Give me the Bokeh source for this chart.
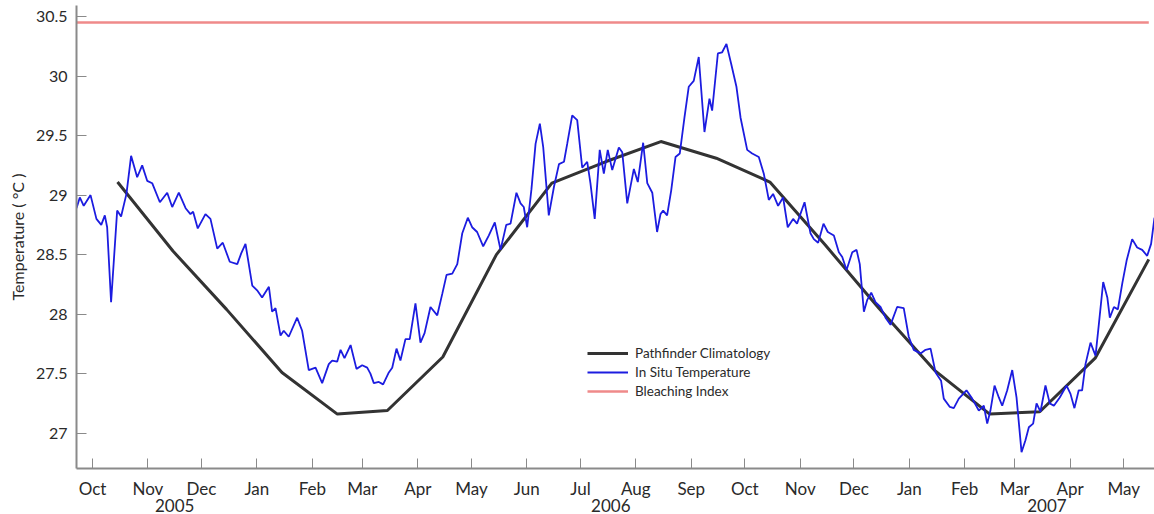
import pandas as pd
from bokeh.plotting import figure
from bokeh.models import (Range1d, FixedTicker, LinearAxis, Legend, LegendItem,
                          CustomJSTickFormatter)
from bokeh.embed import file_html
from bokeh.resources import INLINE

# Days are counted from 2005-10-01
base_date = "2005-10-01"

insitu_day = [
    -8.95, -7.1, -4.9, -1.1, 2.2, 4.9, 6.9, 8.2, 10.4, 13.8,
    16.0, 19.0, 21.6, 25.0, 27.8, 30.6, 33.4, 37.7, 41.8, 44.6,
    48.3, 52.1, 54.8, 56.3, 58.9, 63.2, 66.0, 69.8, 72.9, 76.8,
    81.0, 83.2, 85.6, 89.4, 92.1, 94.9, 98.7, 100.5, 102.4, 105.2,
    107.0, 109.8, 114.5, 117.3, 121.0, 124.8, 128.5, 132.2, 134.1, 136.9,
    138.8, 141.0, 144.4, 147.7, 150.9, 153.7, 155.5, 157.4, 160.2, 162.6,
    165.8, 167.7, 170.1, 172.3, 175.1, 177.5, 180.7, 183.5, 185.8, 189.1,
    192.9, 195.7, 198.1, 201.3, 204.1, 206.9, 210.0, 212.4, 215.2, 218.6,
    221.7, 225.1, 228.3, 231.5, 233.9, 237.2, 239.5, 241.3, 243.2, 245.6,
    247.9, 250.3, 252.2, 255.3, 258.2, 261.0, 263.8, 265.6, 268.4, 271.2,
    274.0, 276.8, 278.6, 281.0, 283.8, 286.1, 288.3, 290.8, 294.5, 296.4,
    299.2, 302.9, 305.1, 308.1, 310.4, 313.2, 315.9, 317.8, 319.3, 321.5,
    323.8, 326.2, 328.6, 331.2, 333.6, 336.4, 339.2, 342.4, 345.2, 346.7,
    349.9, 352.3, 354.7, 357.4, 360.3, 362.6, 366.3, 369.1, 372.8, 375.6,
    378.4, 380.8, 383.6, 386.4, 389.0, 392.0, 394.2, 398.4, 401.7, 403.6,
    406.0, 409.0, 411.4, 414.8, 417.6, 419.5, 421.9, 425.1, 427.5, 429.3,
    431.6, 433.5, 435.7, 438.1, 440.9, 443.7, 446.5, 450.2, 453.9, 456.7,
    459.5, 463.3, 466.1, 468.9, 471.7, 474.8, 476.3, 479.7, 481.9, 484.7,
    489.0, 492.2, 495.9, 498.7, 500.6, 502.4, 504.7, 507.1, 509.0, 511.8,
    514.6, 517.0, 519.8, 522.0, 523.9, 526.3, 528.2, 530.4, 533.2, 535.6,
    537.9, 541.2, 545.0, 547.2, 549.4, 551.8, 553.7, 555.6, 558.4, 561.2,
    563.1, 565.5, 567.8, 569.2, 571.5, 573.7, 576.2, 578.6, 581.7, 584.5,
    587.3, 590.1, 592.3, 594.2,
]
insitu_temp = [
    28.89, 28.98, 28.91, 29.00, 28.80, 28.75, 28.83, 28.73, 28.10, 28.87,
    28.82, 29.01, 29.33, 29.15, 29.25, 29.12, 29.10, 28.94, 29.02, 28.90,
    29.02, 28.89, 28.84, 28.86, 28.72, 28.84, 28.80, 28.55, 28.60, 28.44,
    28.42, 28.51, 28.59, 28.24, 28.20, 28.14, 28.23, 28.02, 28.05, 27.82,
    27.86, 27.81, 27.97, 27.86, 27.53, 27.55, 27.42, 27.58, 27.61, 27.60,
    27.70, 27.63, 27.74, 27.54, 27.57, 27.55, 27.50, 27.42, 27.43, 27.41,
    27.51, 27.55, 27.71, 27.61, 27.79, 27.79, 28.09, 27.76, 27.84, 28.06,
    27.99, 28.17, 28.33, 28.34, 28.42, 28.68, 28.81, 28.73, 28.69, 28.57,
    28.66, 28.77, 28.54, 28.75, 28.76, 29.02, 28.93, 28.90, 28.73, 29.05,
    29.43, 29.60, 29.40, 28.83, 29.07, 29.26, 29.28, 29.43, 29.67, 29.63,
    29.23, 29.28, 29.10, 28.80, 29.38, 29.18, 29.38, 29.21, 29.40, 29.36,
    28.93, 29.22, 29.11, 29.44, 29.10, 29.02, 28.69, 28.84, 28.87, 28.83,
    29.04, 29.32, 29.35, 29.65, 29.91, 29.96, 30.16, 29.53, 29.81, 29.71,
    30.19, 30.20, 30.27, 30.10, 29.91, 29.65, 29.38, 29.35, 29.32, 29.18,
    28.96, 29.01, 28.91, 28.98, 28.73, 28.80, 28.76, 28.94, 28.68, 28.63,
    28.60, 28.76, 28.69, 28.66, 28.52, 28.48, 28.37, 28.52, 28.54, 28.42,
    28.02, 28.12, 28.18, 28.10, 28.06, 27.97, 27.91, 28.06, 28.05, 27.81,
    27.70, 27.67, 27.70, 27.71, 27.51, 27.44, 27.29, 27.22, 27.21, 27.29,
    27.36, 27.29, 27.19, 27.23, 27.08, 27.19, 27.40, 27.30, 27.23, 27.36,
    27.53, 27.30, 26.84, 26.94, 27.05, 27.08, 27.25, 27.18, 27.40, 27.25,
    27.23, 27.30, 27.40, 27.33, 27.21, 27.36, 27.36, 27.58, 27.76, 27.65,
    27.92, 28.27, 28.14, 27.97, 28.06, 28.04, 28.26, 28.45, 28.63, 28.56,
    28.54, 28.49, 28.59, 28.81,
]

# Pathfinder monthly climatology (mid-month)
clim_date = ["2005-10-15", "2005-11-15", "2005-12-15", "2006-01-15", "2006-02-15",
             "2006-03-15", "2006-04-15", "2006-05-15", "2006-06-15", "2006-07-15",
             "2006-08-15", "2006-09-15", "2006-10-15", "2006-11-15", "2006-12-15",
             "2007-01-15", "2007-02-15", "2007-03-15", "2007-04-15", "2007-05-15"]
clim_temp = [29.11, 28.53, 28.04, 27.51, 27.16, 27.19, 27.64, 28.50, 29.10, 29.28,
             29.45, 29.31, 29.11, 28.58, 28.05, 27.53, 27.16, 27.18, 27.63, 28.46]

bleaching_index = 30.45

month_start = ["2005-10-01", "2005-11-01", "2005-12-01", "2006-01-01", "2006-02-01",
               "2006-03-01", "2006-04-01", "2006-05-01", "2006-06-01", "2006-07-01",
               "2006-08-01", "2006-09-01", "2006-10-01", "2006-11-01", "2006-12-01",
               "2007-01-01", "2007-02-01", "2007-03-01", "2007-04-01", "2007-05-01"]
month_labels = ["Oct", "Nov", "Dec", "Jan", "Feb", "Mar", "Apr", "May", "Jun", "Jul",
                "Aug", "Sep", "Oct", "Nov", "Dec", "Jan", "Feb", "Mar", "Apr", "May"]
year_labels = ["2005", "2006", "2007"]
year_label_date = ["2005-11-16", "2006-07-18", "2007-03-19"]
y_ticks = [27, 27.5, 28, 28.5, 29, 29.5, 30, 30.5]

FONT = "Lato"
AX = "#8a8a8a"
TXT = "#2a2a2a"

b = pd.Timestamp(base_date)
def to_day(ds):
    return [int((pd.Timestamp(d) - b).days) for d in ds]

clim_day = to_day(clim_date)
month_day = to_day(month_start)
year_day = to_day(year_label_date)

p = figure(width=1154, height=514, output_backend="svg", toolbar_location=None,
           x_range=Range1d(-8.95, 594.2), y_range=Range1d(26.703, 30.593),
           min_border_left=76, min_border_right=0, min_border_top=5, min_border_bottom=0,
           background_fill_color="white", border_fill_color="white")
p.outline_line_color = None
p.grid.visible = False

r_clim = p.line(clim_day, clim_temp, line_color="#333333", line_width=3)
r_insitu = p.line(insitu_day, insitu_temp, line_color="#1c1ce0", line_width=1.8)
r_bleach = p.line([insitu_day[0], clim_day[-1]], [bleaching_index, bleaching_index],
                  line_color="#ef8a8a", line_width=2.5)

# y axis
ya = p.yaxis[0]
ya.ticker = FixedTicker(ticks=y_ticks)
ya.formatter = CustomJSTickFormatter(code="return String(tick)")
ya.axis_label = "Temperature ( \u00b0C )"
ya.axis_label_text_font = FONT
ya.axis_label_text_font_style = "normal"
ya.axis_label_text_font_size = "16px"
ya.axis_label_text_color = TXT
ya.axis_label_standoff = 6
ya.major_label_standoff = 9
ya.major_label_text_font = FONT
ya.major_label_text_font_size = "16px"
ya.major_label_text_color = TXT

# x axis (months)
xa = p.xaxis[0]
xa.ticker = FixedTicker(ticks=month_day)
xa.major_label_overrides = dict(zip(month_day, month_labels))
xa.major_label_standoff = 9
xa.major_label_text_font = FONT
xa.major_label_text_font_size = "17px"
xa.major_label_text_color = TXT

for ax in (ya, xa):
    ax.axis_line_color = AX
    ax.axis_line_width = 2
    ax.major_tick_line_color = AX
    ax.major_tick_line_width = 1
    ax.major_tick_in = 10
    ax.major_tick_out = 0
    ax.minor_tick_line_color = None

# year labels as a second axis row
yr = LinearAxis(ticker=FixedTicker(ticks=year_day),
                major_label_overrides=dict(zip(year_day, year_labels)),
                axis_line_color=None, major_tick_line_color=None, minor_tick_line_color=None,
                major_tick_in=0, major_tick_out=0, major_label_standoff=-3,
                major_label_text_font=FONT, major_label_text_font_size="17px",
                major_label_text_color=TXT)
p.add_layout(yr, "below")

legend = Legend(items=[LegendItem(label="Pathfinder Climatology", renderers=[r_clim]),
                       LegendItem(label="In Situ Temperature", renderers=[r_insitu]),
                       LegendItem(label="Bleaching Index", renderers=[r_bleach])],
                location=(511, 68), border_line_color=None, background_fill_alpha=0,
                padding=0, margin=0, spacing=1, glyph_width=41, glyph_height=18,
                label_height=18, label_standoff=7, label_text_font=FONT,
                label_text_font_size="13.5px", label_text_color=TXT)
p.add_layout(legend)

open("out.html", "w").write(file_html(p, INLINE))
